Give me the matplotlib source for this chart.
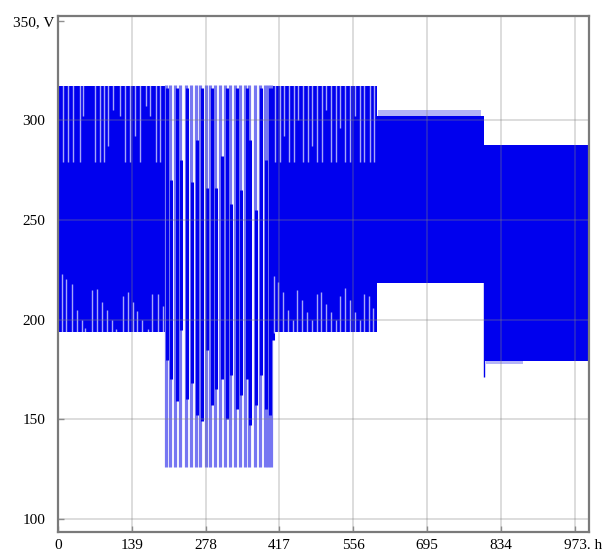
import matplotlib.pyplot as plt
from matplotlib.transforms import ScaledTranslation

plt.rcParams['font.family'] = ['Liberation Serif', 'DejaVu Serif']

DARK = '#0000ee'
LIGHT = '#7676f2'
COMB = '#b4b4f7'

# solid parts of the voltage record: start / end time (h), lower / upper level (V)
band_start = [0, 403, 600, 802]
band_end = [201, 600, 802, 1000]
band_low = [194, 194, 218.5, 179.5]
band_high = [317, 317, 302, 287.5]

# gaps in the first stretch: top gaps (time, lower end) and bottom gaps (time, upper end)
a_top_h = [10, 19, 28, 41, 48, 70, 79, 87, 95, 104, 117, 126, 136, 145, 154, 166, 173, 184, 193]
a_top_v = [279, 279, 279, 279, 302, 279, 279, 279, 287, 305, 302, 279, 279, 292, 279, 307, 302, 279, 279]
a_bot_h = [7, 16, 26, 35, 45, 51, 65, 74, 83, 93, 101, 110, 122, 131, 141, 149, 159, 169, 178, 189, 197]
a_bot_v = [223, 220.5, 217.7, 204.8, 199.8, 196, 214.7, 215.2, 208.9, 204.8, 199.8, 195.5, 211.9, 213.9,
           208.9, 204.3, 199.8, 195.5, 213, 213, 207]

# gaps in the third stretch
c_top_h = [409, 418, 426, 435, 444, 452, 461, 470, 479, 488, 497, 505, 514, 523, 532, 541, 550, 559,
           568, 577, 588, 596]
c_top_v = [279, 279, 292, 279, 279, 300, 279, 279, 287, 279, 279, 305, 279, 279, 296, 279, 279, 302,
           279, 279, 279, 279]
c_bot_h = [406, 415, 424, 433, 442, 451, 460, 469, 478, 487, 496, 505, 514, 523, 532, 541, 550, 559,
           568, 577, 586, 594]
c_bot_v = [222, 219, 214, 205, 200, 215, 210, 204, 200, 213, 214, 208, 204, 200, 212, 216, 210, 204,
           200, 213, 212, 206]

# second stretch: individual swings, time and the range of the dense part
b_h = [203, 211, 221, 230, 241, 250, 260, 268, 279, 287, 296, 306, 315, 324, 334, 343, 353, 360,
       371, 380, 389, 396, 402]
b_lo = [180, 170, 159, 195, 160, 168, 152, 149, 185, 157, 165, 170, 150, 172, 155, 162, 170, 147,
        157, 172, 155, 152, 190]
b_hi = [316, 270, 316, 280, 316, 269, 290, 316, 266, 316, 266, 282, 316, 258, 316, 265, 316, 290,
        255, 316, 280, 316, 316]
b_min, b_max = 126, 317.5

# small features at the step changes
d_comb = [603, 797, 302, 305]
e_comb = [806, 876, 178, 179.5]
e_dip_h, e_dip_lo, e_dip_hi = 802, 171, 219

x_ticks = [0, 139, 278, 417, 556, 695, 834, 973]
x_labels = ['0', '139', '278', '417', '556', '695', '834', '973. h']
y_ticks = [100, 150, 200, 250, 300, 350]
y_labels = ['100', '150', '200', '250', '300', '350, V']

fig = plt.figure(figsize=(6.04, 5.51), dpi=100)
ax = fig.add_axes([0.096, 0.0345, 0.879, 0.9365])

for s, e, lo, hi in zip(band_start, band_end, band_low, band_high):
    ax.fill_between([s, e], [lo, lo], [hi, hi], color=DARK, lw=0, zorder=2)

ax.fill_between(d_comb[:2], d_comb[2], d_comb[3], color=COMB, lw=0, zorder=2)
ax.fill_between(e_comb[:2], e_comb[2], e_comb[3], color=COMB, lw=0, zorder=2)
ax.vlines(e_dip_h, e_dip_lo, e_dip_hi, color=DARK, lw=1.0, zorder=2)

# second stretch: pale full swings plus dense cores
ax.vlines(b_h, b_min, b_max, color=LIGHT, lw=2.3, zorder=2)
ax.vlines([h + 2.5 for h in b_h], b_lo, b_hi, color=DARK, lw=2.2, zorder=3)

# light gaps between swings
gap = dict(color='white', lw=1.0, alpha=0.65, zorder=4)
ax.vlines(a_top_h, a_top_v, 317.5, **gap)
ax.vlines(a_bot_h, 193.5, a_bot_v, **gap)
ax.vlines(c_top_h, c_top_v, 317.5, **gap)
ax.vlines(c_bot_h, 193.5, c_bot_v, **gap)

# grid over the data
for x in x_ticks[1:]:
    ax.axvline(x, color='#808080', lw=1.1, alpha=0.35, zorder=5)
for y in y_ticks[:-1]:
    ax.axhline(y, color='#808080', lw=1.1, alpha=0.35, zorder=5)

ax.set_xlim(0, 1000)
ax.set_ylim(93.5, 352.3)
ax.set_xticks(x_ticks)
ax.set_xticklabels(x_labels)
ax.set_yticks(y_ticks)
ax.set_yticklabels(y_labels)
ax.tick_params(direction='in', length=4, width=1, color='#909090', labelsize=11)
ax.tick_params(axis='x', pad=5)
ax.tick_params(axis='y', pad=9)

last = ax.get_xticklabels()[-1]
last.set_horizontalalignment('left')
last.set_transform(last.get_transform() + ScaledTranslation(-0.11, 0, fig.dpi_scale_trans))
top = ax.get_yticklabels()[-1]
top.set_transform(top.get_transform() + ScaledTranslation(0.09, -0.01, fig.dpi_scale_trans))

for sp in ax.spines.values():
    sp.set_color('#7a7a7a')
    sp.set_linewidth(1.6)

fig.savefig('out.png', dpi=100)
